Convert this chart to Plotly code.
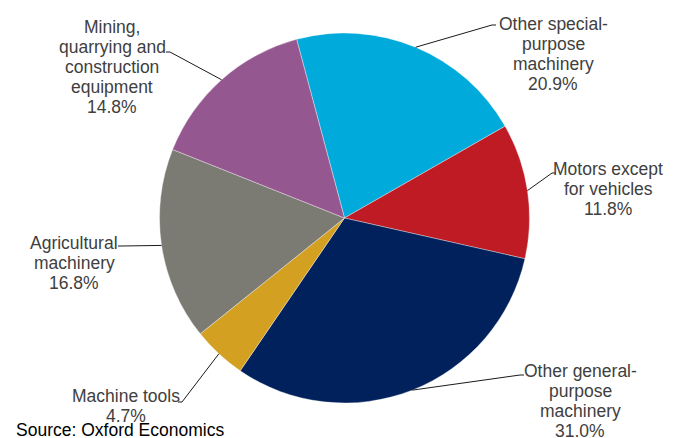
import math
import plotly.graph_objects as go

# Machinery output by type (share of total, %)
categories = [
    "Other special-<br>purpose<br>machinery",
    "Motors except<br>for vehicles",
    "Other general-<br>purpose<br>machinery",
    "Machine tools",
    "Agricultural<br>machinery",
    "Mining,<br>quarrying and<br>construction<br>equipment",
]
shares = [20.9, 11.8, 31.0, 4.7, 16.8, 14.8]
colors = ["#00AADB", "#BE1B24", "#00215C", "#D4A021", "#7B7B74", "#95578F"]

W, H = 681, 438
CX, CY, R = 344.5, 218.0, 185.0
ROTATION = -15.0

# label block centre (x) and first-line centre (y), plus leader end point, in pixels
label_pos = [
    (553, 24, 492, 25),
    (608, 169, 552, 173),
    (580, 371, 520, 375),
    (126, 396, 182, 402),
    (74, 243, 122, 246),
    (112, 27, 170, 52),
]
LINE_GAP = 20
FONT = "Liberation Sans, Arial, sans-serif"


def px(x):
    return x / W


def py(y):
    return 1 - y / H


fig = go.Figure(
    go.Pie(
        labels=[c.replace("<br>", " ") for c in categories],
        values=shares,
        sort=False,
        direction="clockwise",
        rotation=ROTATION,
        textinfo="none",
        hoverinfo="label+percent",
        marker=dict(colors=colors, line=dict(color="rgba(255,255,255,0.6)", width=0.6)),
        domain=dict(x=[px(CX - R), px(CX + R)], y=[py(CY + R), py(CY - R)]),
        showlegend=False,
    )
)

total = sum(shares)
annotations = []
shapes = []
angle = ROTATION
for name, v, (lx, ly, ex, ey) in zip(categories, shares, label_pos):
    span = v / total * 360
    mid = math.radians(angle + span / 2)
    angle += span
    sx = CX + R * math.sin(mid)
    sy = CY - R * math.cos(mid)
    tick = 4 if ex > CX else -4
    shapes.append(dict(
        type="path", xref="paper", yref="paper",
        path=f"M {px(sx)},{py(sy)} L {px(ex)},{py(ey)} L {px(ex + tick)},{py(ey)}",
        line=dict(color="#1a1a1a", width=1),
    ))
    lines = name.split("<br>") + [f"{v:.1f}%"]
    for i, t in enumerate(lines):
        annotations.append(dict(
            text=t, x=px(lx), y=py(ly + i * LINE_GAP), xref="paper", yref="paper",
            xanchor="center", yanchor="middle", showarrow=False,
            font=dict(family=FONT, size=17.5, color="#404040"),
        ))

annotations.append(dict(
    text="Source: Oxford Economics", x=px(14), y=py(430), xref="paper", yref="paper",
    xanchor="left", yanchor="middle", showarrow=False,
    font=dict(family=FONT, size=17.5, color="#000000"),
))

fig.update_layout(
    width=W, height=H,
    margin=dict(l=0, r=0, t=0, b=0),
    paper_bgcolor="white", plot_bgcolor="white",
    annotations=annotations, shapes=shapes,
)

fig.write_html("out.html")
